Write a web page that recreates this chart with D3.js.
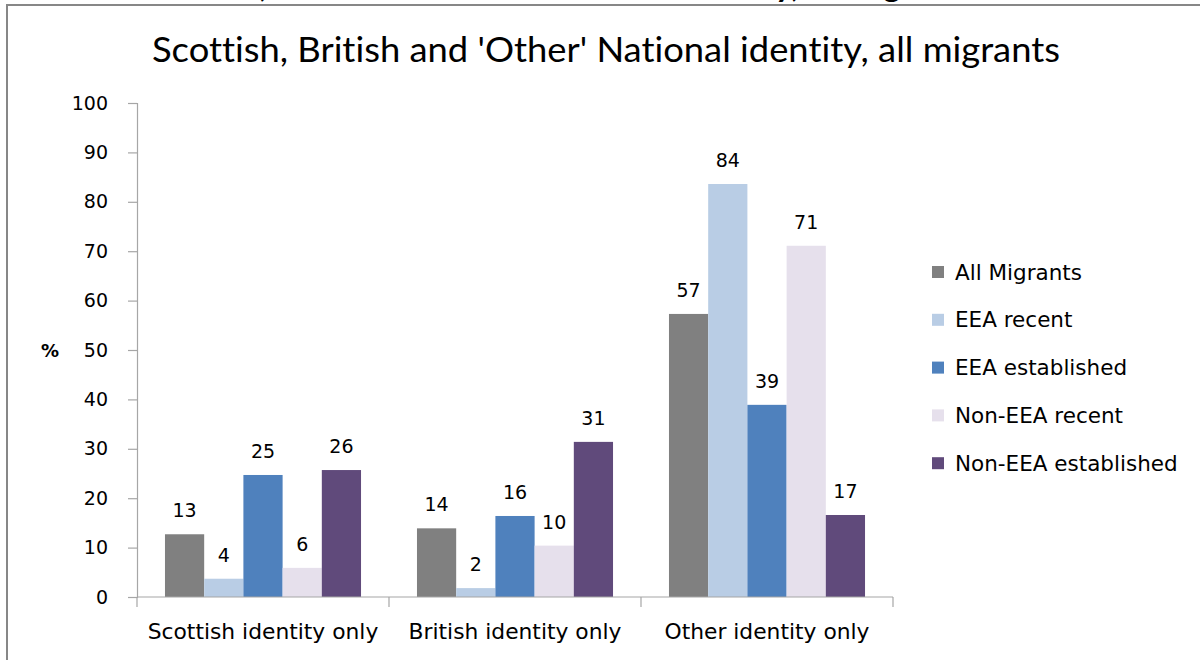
<!DOCTYPE html>
<html>
<head>
<meta charset="utf-8">
<script src="https://cdn.jsdelivr.net/npm/d3@7"></script>
<style>
  html, body { margin: 0; padding: 0; background: #fff; }
  svg { display: block; }
  text { font-variant-ligatures: none; }
</style>
</head>
<body>
<svg id="chart" width="1200" height="660"></svg>
<script>
// ---- data ----
const categories = ["Scottish identity only", "British identity only", "Other identity only"];
const seriesNames = ["All Migrants", "EEA recent", "EEA established", "Non-EEA recent", "Non-EEA established"];
const seriesColors = ["#808080", "#B9CDE5", "#4F81BD", "#E6E0EC", "#604A7B"];
const allMigrants = [12.7, 13.9, 57.3];
const eeaRecent = [3.7, 1.8, 83.6];
const eeaEstablished = [24.7, 16.4, 38.9];
const nonEeaRecent = [5.9, 10.4, 71.1];
const nonEeaEstablished = [25.7, 31.4, 16.6];
const valueLabels = [
  ["13", "14", "57"],
  ["4", "2", "84"],
  ["25", "16", "39"],
  ["6", "10", "71"],
  ["26", "31", "17"]
];
const yTicks = [0, 10, 20, 30, 40, 50, 60, 70, 80, 90, 100];
const chartTitle = "Scottish, British and 'Other' National identity, all migrants";
const yAxisLabel = "%";

const seriesValues = [allMigrants, eeaRecent, eeaEstablished, nonEeaRecent, nonEeaEstablished];

// ---- drawing ----
const svg = d3.select("#chart");
const bodyFont = "'DejaVu Sans', Verdana, sans-serif";

// clipped outer (page) title peeking above the frame
const clip = svg.append("defs").append("clipPath").attr("id", "topclip");
clip.append("rect").attr("x", 0).attr("y", 0).attr("width", 1200).attr("height", 4);
svg.append("text")
  .attr("clip-path", "url(#topclip)")
  .attr("x", 142).attr("y", -3)
  .attr("font-family", "Lato, sans-serif")
  .attr("font-weight", "bold")
  .attr("font-size", 32)
  .attr("textLength", 832)
  .attr("lengthAdjust", "spacingAndGlyphs")
  .attr("fill", "#000")
  .text(chartTitle);

// frame
svg.append("path")
  .attr("d", "M7,662 L7,5 L1202,5")
  .attr("fill", "none")
  .attr("stroke", "#878787")
  .attr("stroke-width", 2);

// title
svg.append("text")
  .attr("x", 152).attr("y", 62)
  .attr("font-family", "Lato, sans-serif")
  .attr("font-size", 34)
  .attr("textLength", 908)
  .attr("lengthAdjust", "spacingAndGlyphs")
  .attr("fill", "#000")
  .text(chartTitle);

// scales
const x0 = d3.scaleBand().domain(categories).range([137, 893]).paddingInner(0).paddingOuter(0);
const bw = x0.bandwidth();
const x1 = d3.scaleBand().domain(seriesNames).range([bw * 0.111, bw * 0.889]).padding(0);
const y = d3.scaleLinear().domain([0, 100]).range([597, 103]);

// y axis
const yAxis = svg.append("g")
  .attr("transform", "translate(137,0)")
  .call(d3.axisLeft(y).tickValues(yTicks).tickSize(9).tickPadding(20).tickFormat(d3.format("d")));
yAxis.select(".domain").attr("stroke", "#A6A6A6").attr("stroke-width", 1.2);
yAxis.selectAll(".tick line").attr("stroke", "#A6A6A6").attr("stroke-width", 1.2);
yAxis.selectAll(".tick text")
  .attr("font-family", bodyFont)
  .attr("font-size", 19)
  .attr("fill", "#000");

// bars
const groups = svg.append("g").selectAll("g")
  .data(categories)
  .join("g")
  .attr("transform", d => `translate(${x0(d)},0)`);

groups.selectAll("rect")
  .data((c, ci) => seriesNames.map((s, si) => ({ s, si, ci, v: seriesValues[si][ci] })))
  .join("rect")
  .attr("x", d => x1(d.s))
  .attr("y", d => y(d.v))
  .attr("width", x1.bandwidth())
  .attr("height", d => y(0) - y(d.v))
  .attr("fill", d => seriesColors[d.si]);

groups.selectAll("text.val")
  .data((c, ci) => seriesNames.map((s, si) => ({ s, si, ci, v: seriesValues[si][ci] })))
  .join("text")
  .attr("class", "val")
  .attr("x", d => x1(d.s) + x1.bandwidth() / 2)
  .attr("y", d => y(d.v) - 17)
  .attr("text-anchor", "middle")
  .attr("font-family", bodyFont)
  .attr("font-size", 19)
  .attr("fill", "#000")
  .text(d => valueLabels[d.si][d.ci]);

// x axis
const xAxisG = svg.append("g").attr("transform", "translate(0,597)");
xAxisG.append("line")
  .attr("x1", 137).attr("x2", 893).attr("y1", 0).attr("y2", 0)
  .attr("stroke", "#A6A6A6").attr("stroke-width", 1.2);
const bounds = categories.map(c => x0(c)).concat([x0(categories[categories.length - 1]) + bw]);
xAxisG.selectAll("line.tk")
  .data(bounds)
  .join("line")
  .attr("class", "tk")
  .attr("x1", d => d).attr("x2", d => d)
  .attr("y1", 0).attr("y2", 10)
  .attr("stroke", "#A6A6A6").attr("stroke-width", 1.2);
xAxisG.selectAll("text")
  .data(categories)
  .join("text")
  .attr("x", d => x0(d) + bw / 2)
  .attr("y", 42)
  .attr("text-anchor", "middle")
  .attr("font-family", bodyFont)
  .attr("font-size", 21.8)
  .attr("fill", "#000")
  .text(d => d);

// y label
svg.append("text")
  .attr("x", 50).attr("y", 357)
  .attr("text-anchor", "middle")
  .attr("font-family", bodyFont)
  .attr("font-weight", "bold")
  .attr("font-size", 18)
  .attr("fill", "#000")
  .text(yAxisLabel);

// legend
const legend = svg.append("g");
const lg = legend.selectAll("g")
  .data(seriesNames)
  .join("g")
  .attr("transform", (d, i) => `translate(932,${272 + i * 47.8})`);
lg.append("rect")
  .attr("x", 0).attr("y", -6)
  .attr("width", 12).attr("height", 12)
  .attr("fill", (d, i) => seriesColors[i]);
lg.append("text")
  .attr("x", 23).attr("y", 7.5)
  .attr("font-family", bodyFont)
  .attr("font-size", 21.5)
  .attr("fill", "#000")
  .text(d => d);
</script>
</body>
</html>
